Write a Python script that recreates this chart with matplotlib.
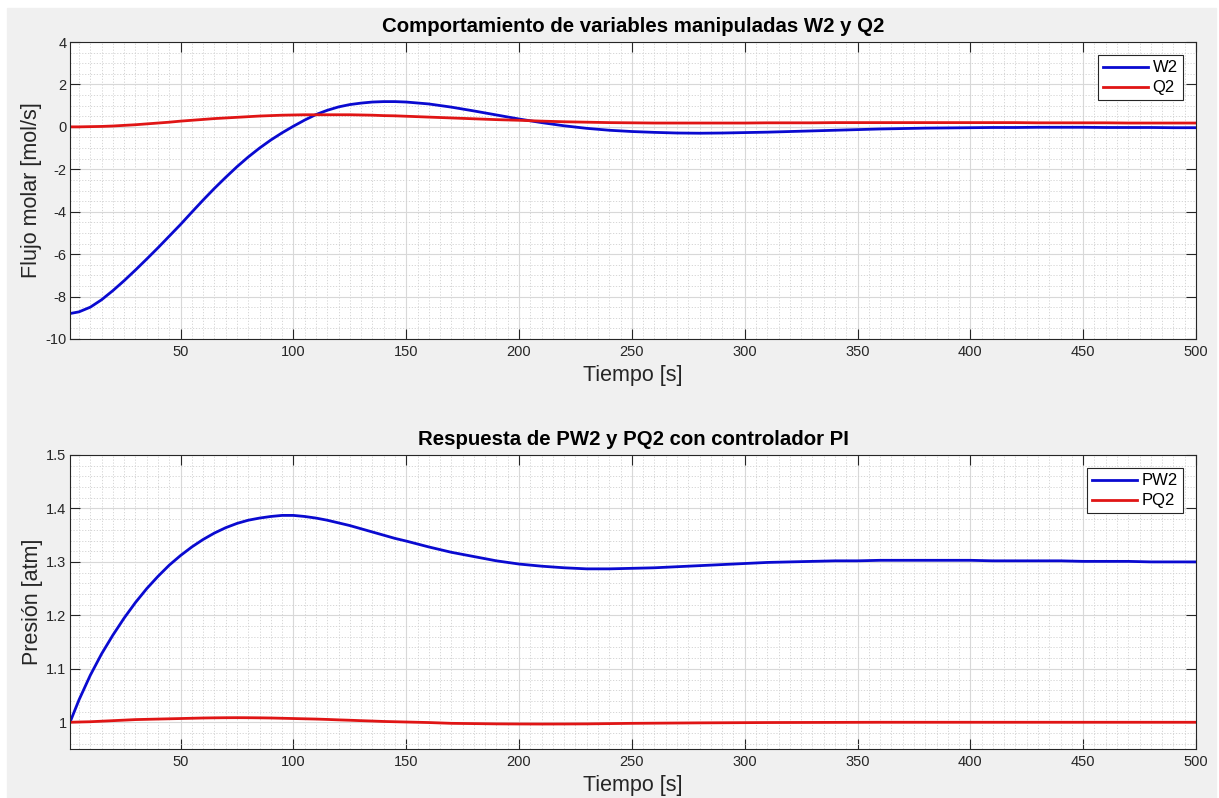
import matplotlib.pyplot as plt
from matplotlib.ticker import MultipleLocator
from matplotlib.patches import Rectangle

plt.rcParams['font.family'] = ['Liberation Sans', 'DejaVu Sans']
plt.rcParams['axes.unicode_minus'] = False

# tiempo [s]
t = [1, 5, 10, 15, 20, 25, 30, 35, 40, 45, 50, 55, 60, 65, 70, 75, 80, 85, 90, 95,
     100, 105, 110, 115, 120, 125, 130, 135, 140, 145, 150,
     160, 170, 180, 190, 200, 210, 220, 230, 240, 250, 260, 270, 280, 290, 300,
     310, 320, 330, 340, 350, 360, 370, 380, 390, 400, 410, 420, 430, 440, 450,
     460, 470, 480, 490, 500]

# flujo molar [mol/s]
w2 = [-8.80, -8.72, -8.50, -8.15, -7.72, -7.25, -6.75, -6.23, -5.70, -5.15,
      -4.60, -4.02, -3.45, -2.90, -2.38, -1.88, -1.42, -1.00, -0.62, -0.28,
      0.03, 0.32, 0.58, 0.78, 0.94, 1.05, 1.12, 1.17, 1.19, 1.19, 1.17,
      1.08, 0.93, 0.75, 0.56, 0.37, 0.20, 0.05, -0.07, -0.16, -0.22,
      -0.26, -0.29, -0.30, -0.29, -0.27, -0.25, -0.22, -0.19, -0.16, -0.13,
      -0.10, -0.08, -0.06, -0.05, -0.04, -0.03, -0.03, -0.02, -0.02, -0.02,
      -0.03, -0.03, -0.03, -0.04, -0.04]
q2 = [0.00, 0.00, 0.01, 0.02, 0.04, 0.07, 0.10, 0.14, 0.18, 0.22,
      0.27, 0.31, 0.35, 0.39, 0.42, 0.45, 0.48, 0.51, 0.53, 0.55,
      0.56, 0.57, 0.57, 0.57, 0.57, 0.57, 0.56, 0.55, 0.53, 0.52, 0.50,
      0.46, 0.42, 0.38, 0.34, 0.31, 0.27, 0.24, 0.22, 0.20, 0.19,
      0.18, 0.18, 0.18, 0.18, 0.18, 0.19, 0.19, 0.19, 0.20, 0.20,
      0.20, 0.20, 0.20, 0.20, 0.20, 0.20, 0.20, 0.19, 0.19, 0.19,
      0.19, 0.18, 0.18, 0.18, 0.18]

# presion [atm]
pw2 = [1.000, 1.042, 1.088, 1.128, 1.163, 1.195, 1.224, 1.250, 1.273, 1.294,
       1.312, 1.328, 1.342, 1.354, 1.364, 1.372, 1.378, 1.382, 1.385, 1.387,
       1.387, 1.385, 1.382, 1.378, 1.373, 1.368, 1.362, 1.356, 1.350, 1.344, 1.339,
       1.328, 1.318, 1.310, 1.302, 1.296, 1.292, 1.289, 1.287, 1.287, 1.288,
       1.289, 1.291, 1.293, 1.295, 1.297, 1.299, 1.300, 1.301, 1.302, 1.302,
       1.303, 1.303, 1.303, 1.303, 1.303, 1.302, 1.302, 1.302, 1.302, 1.301,
       1.301, 1.301, 1.300, 1.300, 1.300]
pq2 = [1.000, 1.0005, 1.001, 1.002, 1.003, 1.004, 1.005, 1.0055, 1.006, 1.0065,
       1.007, 1.0075, 1.008, 1.0083, 1.0085, 1.0086, 1.0085, 1.0083, 1.008, 1.0075,
       1.007, 1.0065, 1.006, 1.0053, 1.0045, 1.0038, 1.003, 1.0023, 1.0015, 1.001, 1.0005,
       0.9995, 0.998, 0.9975, 0.997, 0.9968, 0.9967, 0.9968, 0.997, 0.9975, 0.998,
       0.9983, 0.9986, 0.9989, 0.9991, 0.9993, 0.9995, 0.9996, 0.9997, 0.9998, 0.9999,
       1.0, 1.0, 1.0, 1.0, 1.0, 1.0, 1.0, 1.0, 1.0, 1.0,
       1.0, 1.0, 1.0, 1.0, 1.0]

fig = plt.figure(figsize=(12.19, 7.98), dpi=100, facecolor='white')
fig.patches.append(Rectangle((7 / 1219, 0), 1209 / 1219, 790 / 798,
                             transform=fig.transFigure, color='#f0f0f0', zorder=-10))

ax1 = fig.add_axes([70 / 1219, 1 - 339 / 798, 1126 / 1219, 297 / 798])
ax2 = fig.add_axes([70 / 1219, 1 - 749 / 798, 1126 / 1219, 294 / 798])

blue = '#0a0ad0'
red = '#e01515'
txt = '#262626'

ax1.plot(t, w2, color=blue, lw=2.0, label='W2')
ax1.plot(t, q2, color=red, lw=2.0, label='Q2')
ax2.plot(t, pw2, color=blue, lw=2.0, label='PW2')
ax2.plot(t, pq2, color=red, lw=2.0, label='PQ2')

ax1.set_ylim(-10, 4)
ax1.yaxis.set_major_locator(MultipleLocator(2))
ax1.yaxis.set_minor_locator(MultipleLocator(0.5))
ax2.set_ylim(0.95, 1.5)
ax2.set_yticks([1, 1.1, 1.2, 1.3, 1.4, 1.5])
ax2.set_yticklabels(['1', '1.1', '1.2', '1.3', '1.4', '1.5'])
ax2.yaxis.set_minor_locator(MultipleLocator(0.02))

ax1.set_title('Comportamiento de variables manipuladas W2 y Q2',
              fontsize=14.7, fontweight='bold', color='black', pad=7)
ax2.set_title('Respuesta de PW2 y PQ2 con controlador PI',
              fontsize=14.7, fontweight='bold', color='black', pad=7)
ax1.set_ylabel('Flujo molar [mol/s]', fontsize=15.5, color=txt, labelpad=2)
ax2.set_ylabel('Presión [atm]', fontsize=15.5, color=txt, labelpad=2)

for ax in (ax1, ax2):
    ax.set_xlim(1, 500)
    ax.set_xticks(range(50, 501, 50))
    ax.xaxis.set_minor_locator(MultipleLocator(5))
    ax.set_xlabel('Tiempo [s]', fontsize=15.5, color=txt, labelpad=5)
    ax.set_facecolor('white')
    ax.grid(which='major', color='#d8d8d8', lw=0.8)
    ax.grid(which='minor', color='#d0d0d0', lw=0.6, linestyle=(0, (1.5, 2)))
    ax.set_axisbelow(True)
    ax.tick_params(which='major', direction='in', length=7, width=0.8,
                   top=True, right=True, labelsize=10.5, colors=txt, pad=4)
    ax.tick_params(axis='y', which='major', pad=2.5)
    ax.tick_params(which='minor', length=0)
    for s in ax.spines.values():
        s.set_color(txt)
        s.set_linewidth(0.8)
    leg = ax.legend(loc='upper right', fancybox=False, edgecolor=txt, framealpha=1,
                    fontsize=12, handlelength=2.7, handletextpad=0.25,
                    borderaxespad=0.8, labelspacing=0.3, borderpad=0.3)
    leg.get_frame().set_linewidth(0.8)

fig.savefig('out.png', dpi=100, facecolor=fig.get_facecolor())
